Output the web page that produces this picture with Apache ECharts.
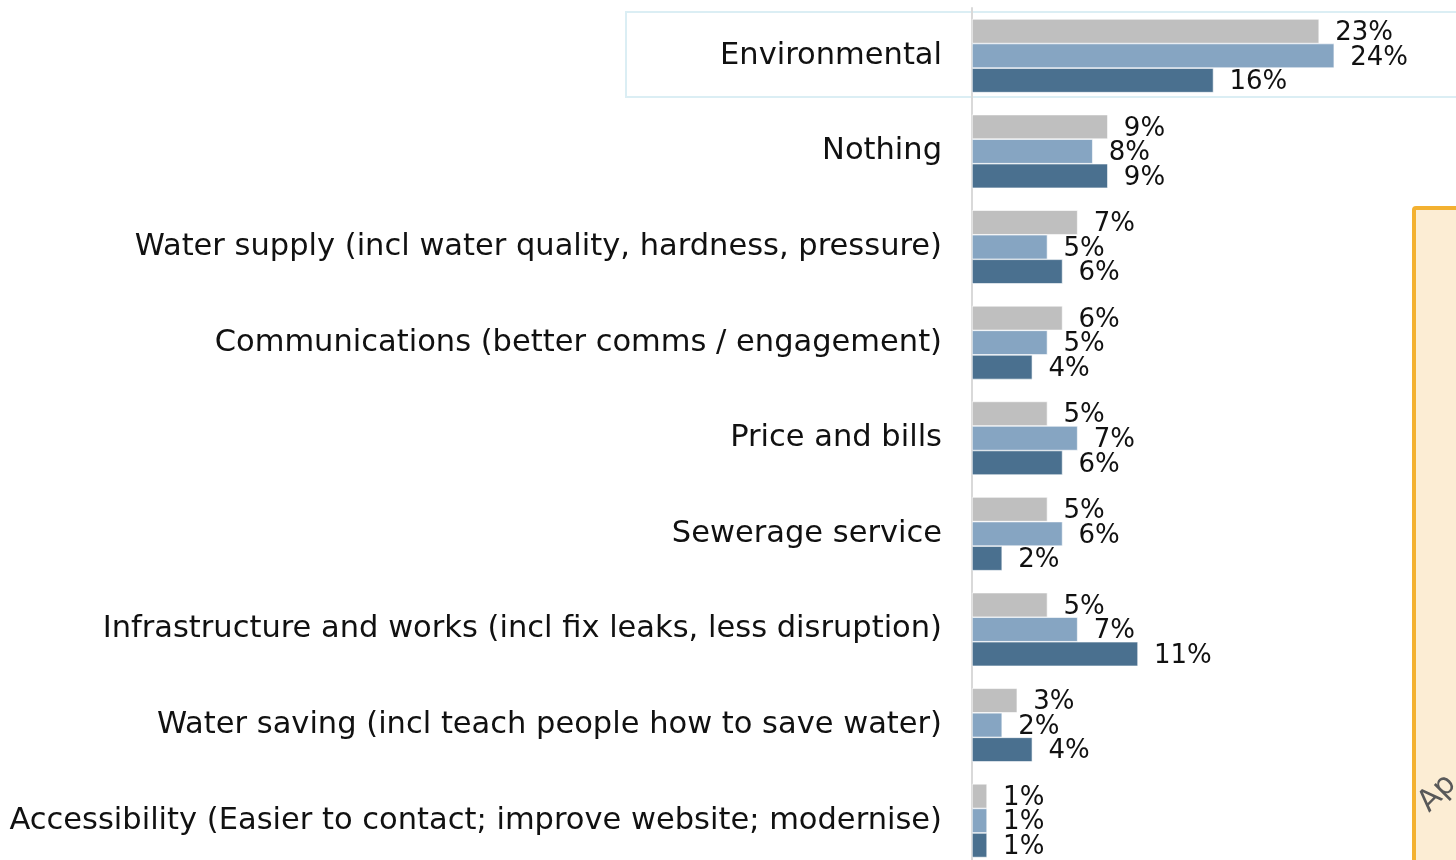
<!DOCTYPE html>
<html>
<head>
    <meta charset="utf-8">
    <title>Improvements</title>
    <script src="https://cdn.jsdelivr.net/npm/echarts@6/dist/echarts.min.js"></script>
    <style>
        html, body { margin: 0; padding: 0; background: #fff; overflow: hidden; }
    </style>
</head>
<body>
<!-- a little taller than the window so the last row can run off the bottom edge -->
<div id="main" style="width: 1456px;height:880px;"></div>

<script type="text/javascript">
    // categories, top to bottom
    var categories = [
        'Environmental',
        'Nothing',
        'Water supply (incl water quality, hardness, pressure)',
        'Communications (better comms / engagement)',
        'Price and bills',
        'Sewerage service',
        'Infrastructure and works (incl fix leaks, less disruption)',
        'Water saving (incl teach people how to save water)',
        'Accessibility (Easier to contact; improve website; modernise)'
    ];

    // three waves, in percent
    var wave1 = [23, 9, 7, 6, 5, 5, 5, 3, 1];
    var wave2 = [24, 8, 5, 5, 7, 6, 7, 2, 1];
    var wave3 = [16, 9, 6, 4, 6, 2, 11, 4, 1];

    var colors = ['#bfbfbf', '#86a5c2', '#4a708f'];
    var fontName = 'DejaVu Sans';

    var myChart = echarts.init(document.getElementById('main'));

    function makeSeries(name, data, color) {
        return {
            name: name,
            type: 'bar',
            data: data,
            barGap: '0%',
            barCategoryGap: '23%',
            itemStyle: { color: color, borderColor: '#ffffff', borderWidth: 0.6 },
            label: {
                show: true,
                position: 'right',
                distance: 16,
                offset: [0, 2],
                formatter: '{c}%',
                color: '#111',
                fontFamily: fontName,
                fontSize: 26,
                lineHeight: 24
            },
            animation: false
        };
    }

    var option = {
        backgroundColor: '#ffffff',
        animation: false,
        grid: { left: 972, top: 8, width: 483, height: 860.5, containLabel: false },
        xAxis: {
            type: 'value',
            min: 0,
            max: 32,
            show: false
        },
        yAxis: {
            type: 'category',
            inverse: true,
            data: categories,
            axisLine: { show: true, lineStyle: { color: '#d9d9d9', width: 2 } },
            axisTick: { show: false },
            axisLabel: {
                margin: 30,
                color: '#111',
                fontFamily: fontName,
                fontSize: 30.5
            }
        },
        graphic: [
            {
                type: 'rect',
                z: -1,
                shape: { x: 626, y: 12, width: 840, height: 85 },
                style: { fill: 'none', stroke: '#dbeef4', lineWidth: 2 }
            },
            {
                type: 'rect',
                z: -1,
                shape: { x: 1414, y: 208, width: 60, height: 700, r: 2 },
                style: { fill: '#fcedd4', stroke: '#f3b131', lineWidth: 4 }
            },
            {
                type: 'text',
                z: 5,
                x: 1434,
                y: 818,
                rotation: Math.PI / 4,
                style: { text: 'Ap', fill: '#595959', font: '30px ' + fontName, verticalAlign: 'bottom' }
            }
        ],
        series: [
            makeSeries('Wave 1', wave1, colors[0]),
            makeSeries('Wave 2', wave2, colors[1]),
            makeSeries('Wave 3', wave3, colors[2])
        ]
    };

    myChart.setOption(option);
</script>
</body>
</html>
